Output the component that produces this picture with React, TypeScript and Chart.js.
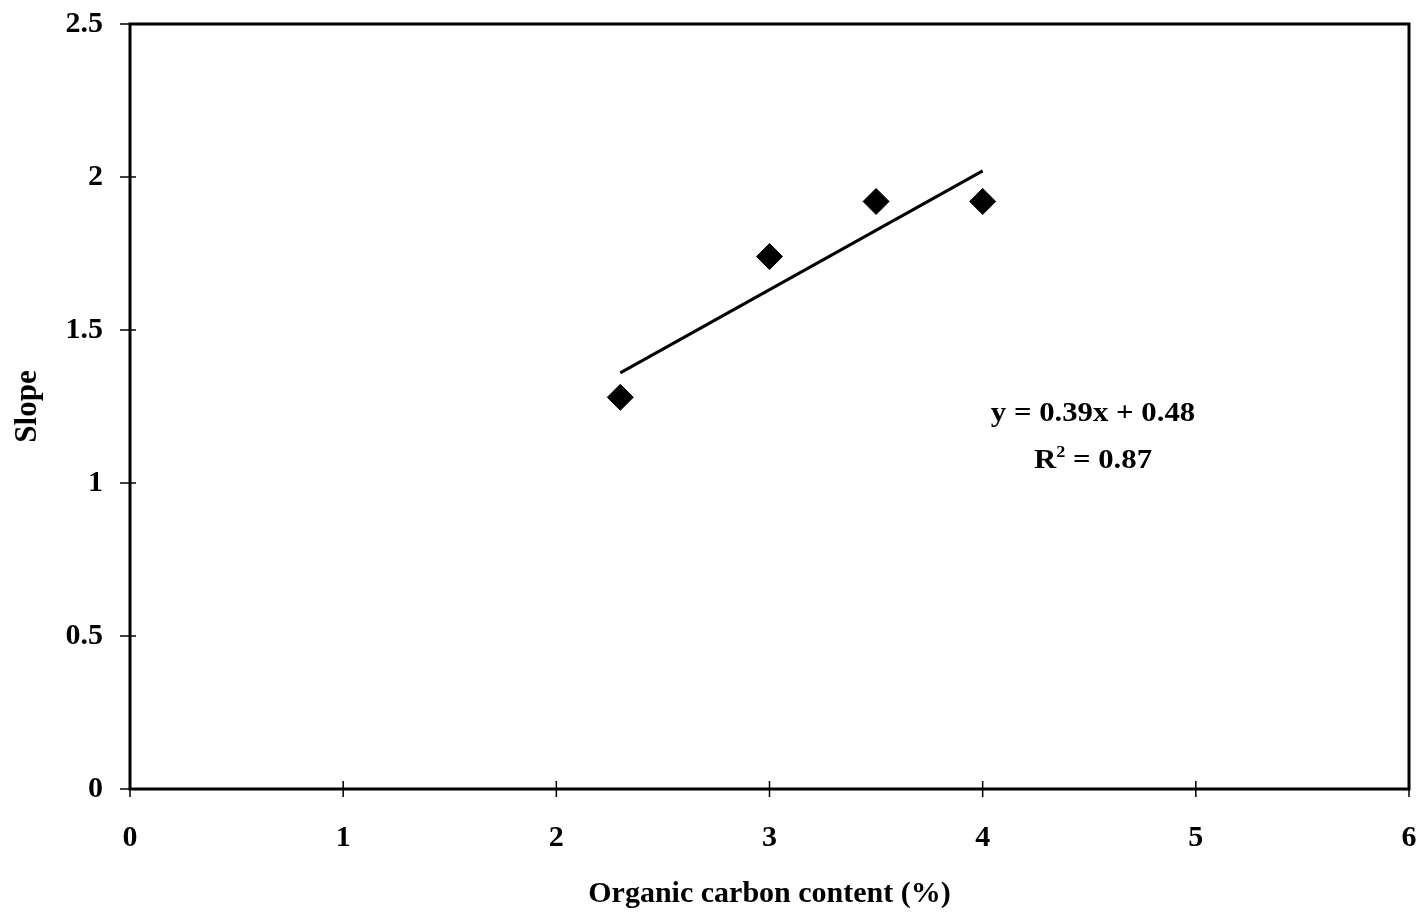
import React, { useEffect, useRef } from "react";
import { Chart, registerables } from "chart.js";

Chart.register(...registerables);

const carbonValues = [2.3, 3.0, 3.5, 4.0];
const slopeValues = [1.28, 1.74, 1.92, 1.92];
const trendX = [2.3, 4.0];
const trendY = [1.36, 2.02];
const xTickValues = [0, 1, 2, 3, 4, 5, 6];
const yTickValues = [0, 0.5, 1, 1.5, 2, 2.5];
const xTitle = "Organic carbon content (%)";
const yTitle = "Slope";
const equationText = "y = 0.39x + 0.48";
const r2Value = "0.87";

const FONT = '"Liberation Serif", "Times New Roman", serif';

const framePlugin = {
  id: "frame",
  afterDraw(chart: any) {
    const { ctx, chartArea, scales } = chart;
    const { left, right, top, bottom } = chartArea;
    ctx.save();
    ctx.strokeStyle = "#000";
    ctx.lineWidth = 3;
    ctx.strokeRect(left, top, right - left, bottom - top);
    ctx.lineWidth = 1.5;
    ctx.beginPath();
    for (const v of yTickValues) {
      const y = scales.y.getPixelForValue(v);
      ctx.moveTo(left - 10, y);
      ctx.lineTo(left + 6, y);
    }
    for (const v of xTickValues) {
      const x = scales.x.getPixelForValue(v);
      ctx.moveTo(x, bottom - 8);
      ctx.lineTo(x, bottom + 8);
    }
    ctx.stroke();

    // equation annotation
    const cx = 1093;
    ctx.fillStyle = "#000";
    ctx.textBaseline = "alphabetic";
    const mainFont = `bold 27px ${FONT}`;
    const supFont = `bold 16px ${FONT}`;
    ctx.font = mainFont;
    ctx.save();
    ctx.translate(cx, 421);
    ctx.scale(1.14, 1);
    ctx.textAlign = "center";
    ctx.fillText(equationText, 0, 0);
    ctx.restore();

    ctx.save();
    ctx.translate(cx, 468);
    ctx.scale(1.14, 1);
    ctx.textAlign = "left";
    ctx.font = mainFont;
    const wR = ctx.measureText("R").width;
    const rest = " = " + r2Value;
    const wRest = ctx.measureText(rest).width;
    ctx.font = supFont;
    const wSup = ctx.measureText("2").width;
    const total = wR + wSup + wRest;
    const x0 = -total / 2;
    ctx.font = mainFont;
    ctx.fillText("R", x0, 0);
    ctx.font = supFont;
    ctx.fillText("2", x0 + wR, -11);
    ctx.font = mainFont;
    ctx.fillText(rest, x0 + wR + wSup, 0);
    ctx.restore();
    ctx.restore();
  },
};

export default function App() {
  const ref = useRef<HTMLCanvasElement>(null);
  useEffect(() => {
    document.body.style.margin = "0";
    const chart = new Chart(ref.current as HTMLCanvasElement, {
      type: "scatter",
      data: {
        datasets: [
          {
            type: "line",
            data: trendX.map((x, i) => ({ x, y: trendY[i] })),
            borderColor: "#000",
            backgroundColor: "#000",
            borderWidth: 3,
            pointRadius: 0,
            fill: false,
            tension: 0,
          } as any,
          {
            type: "scatter",
            data: carbonValues.map((x, i) => ({ x, y: slopeValues[i] })),
            pointStyle: "rectRot",
            pointRadius: 13,
            pointHoverRadius: 13,
            backgroundColor: "#000",
            borderColor: "#000",
            borderWidth: 1,
          } as any,
        ],
      },
      options: {
        responsive: false,
        animation: false,
        events: [],
        layout: { padding: { top: 24, right: 8, bottom: 0, left: 0 } },
        plugins: {
          legend: { display: false },
          tooltip: { enabled: false },
          title: { display: false },
        },
        scales: {
          x: {
            type: "linear",
            min: 0,
            max: 6,
            afterFit: (s: any) => {
              s.height = 123;
              s.paddingLeft = 0;
              s.paddingRight = 0;
            },
            afterBuildTicks: (s: any) => {
              s.ticks = xTickValues.map((v) => ({ value: v }));
            },
            grid: { display: false, drawTicks: false },
            border: { display: false },
            ticks: {
              padding: 31,
              color: "#000",
              font: { family: FONT, size: 30, weight: "bold" },
              callback: (v: any) => String(v),
            },
            title: {
              display: true,
              text: xTitle,
              color: "#000",
              padding: { top: 0, bottom: 0 },
              font: { family: FONT, size: 30, weight: "bold" },
            },
          },
          y: {
            type: "linear",
            min: 0,
            max: 2.5,
            afterFit: (s: any) => {
              s.width = 130;
              s.paddingTop = 0;
              s.paddingBottom = 0;
            },
            afterBuildTicks: (s: any) => {
              s.ticks = yTickValues.map((v) => ({ value: v }));
            },
            grid: { display: false, drawTicks: false },
            border: { display: false },
            ticks: {
              padding: 27,
              color: "#000",
              font: { family: FONT, size: 30, weight: "bold" },
              callback: (v: any) => String(v),
            },
            title: {
              display: true,
              text: yTitle,
              color: "#000",
              padding: { top: 9, bottom: 0 },
              font: { family: FONT, size: 31, weight: "bold" },
            },
          },
        },
      },
      plugins: [framePlugin],
    });
    return () => chart.destroy();
  }, []);
  return (
    <div style={{ position: "absolute", left: 0, top: 0, width: 1423, height: 912, background: "#fff" }}>
      <canvas ref={ref} width={1423} height={912} style={{ display: "block" }} />
    </div>
  );
}
